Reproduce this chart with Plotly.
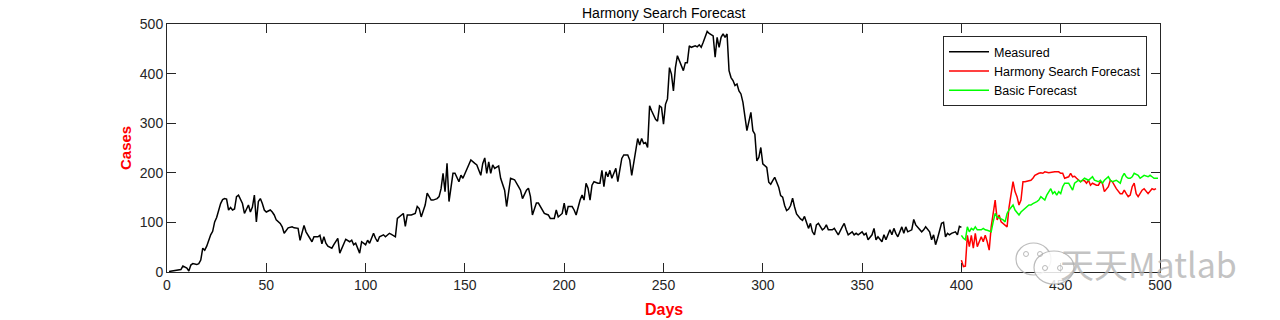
import plotly.graph_objects as go

# ---------------- data ----------------
measured_days = [1,3,5,7,8,10,11,12,13,15,16,17,18,19,20,21,22,23,24,25,26,27,28,29,30,31,32,33,34,35,36,37,38,39,40,41,42,43,44,45,46,47,48,49,50,51,52,53,54,55,57,58,59,61,63,64,66,67,69,70,71,73,74,76,77,78,79,
    80,81,83,84,86,87,89,90,92,93,94,95,97,98,100,101,102,104,105,106,107,109,110,112,113,115,116,118,119,120,121,123,125,126,127,128,130,131,133,134,136,137,138,139,140,141,142,144,145,147,148,149,150,152,153,155,156,158,159,
    160,161,162,163,164,165,167,168,170,171,173,175,177,178,179,181,182,183,184,186,187,189,190,192,193,195,196,197,199,200,201,202,204,205,206,208,209,210,211,212,213,214,215,217,218,219,220,221,222,223,224,226,227,229,230,232,233,234,236,237,238,239,240,
    241,242,243,244,246,247,248,249,250,251,252,253,254,255,256,257,258,259,260,261,262,263,264,266,267,268,269,270,272,273,275,276,277,278,279,280,281,282,283,284,285,286,287,288,289,290,291,292,294,295,296,297,298,299,300,302,303,304,305,306,308,309,310,311,312,313,314,315,316,317,319,320,321,
    322,323,324,325,326,327,328,330,331,332,333,335,336,337,338,340,341,342,343,345,346,347,348,350,351,352,353,355,356,357,358,360,361,362,364,365,366,367,368,370,371,372,373,375,376,377,379,380,381,382,384,385,386,387,388,390,391,392,393,394,395,397,398,399,400]
measured_cases = [1,2,3,5,12,8,2,14,17,15,17,24,48,44,52,65,75,82,101,110,125,138,146,148,147,125,130,125,127,152,155,145,138,118,128,135,121,131,155,101,142,148,138,125,121,123,125,121,115,105,98,91,78,89,91,89,88,64,94,81,74,61,71,71,74,57,71,
    58,52,48,55,68,38,55,66,61,64,55,58,38,61,55,64,58,78,68,61,71,75,71,78,76,71,108,115,118,92,115,115,118,132,128,111,135,159,145,145,148,152,168,199,162,219,142,199,199,182,195,189,199,216,226,219,216,195,219,
    230,199,222,199,216,209,214,189,165,132,189,186,172,165,148,165,169,152,115,139,139,125,118,115,108,108,125,111,118,139,115,132,132,125,115,145,155,145,179,169,145,175,182,179,179,205,172,202,192,205,189,209,182,229,236,236,226,195,246,269,256,269,259,
    261,251,335,325,308,304,335,332,298,338,349,412,399,365,412,436,426,416,406,422,422,456,453,456,454,458,453,463,485,481,476,433,473,453,473,480,473,480,406,392,386,376,379,365,359,342,315,285,322,285,278,224,231,251,218,211,181,177,184,191,171,154,151,134,124,127,134,149,131,117,107,104,112,
    101,88,98,81,75,95,98,85,88,95,85,85,88,81,75,91,98,85,75,81,75,78,75,81,75,78,65,75,88,65,71,61,75,65,85,75,88,78,71,91,78,91,81,85,106,95,85,81,85,91,81,65,75,55,68,98,100,71,78,75,78,81,75,92,90]

hs_days = [400,401,402,403,404,405,406,407,408,410,411,412,413,414,415,416,417,418,419,420,421,423,424,425,426,427,428,429,430,431,432,434,435,436,437,439,440,441,442,444,446,447,449,450,451,452,454,455,456,457,458,460,461,462,463,464,465,466,468,469,470,471,472,474,475,476,478,479,480,481,482,483,484,485,486,487,488,489,490,491,492,493,494,496,497,498]
hs_cases = [24,11,12,74,51,74,48,78,51,71,61,74,61,44,91,118,145,105,115,101,98,91,131,158,182,162,152,135,145,182,182,184,185,189,195,199,200,199,202,200,202,202,202,199,199,189,192,199,192,193,189,182,185,184,179,185,175,179,175,175,182,179,162,172,185,182,168,162,158,158,165,158,152,155,172,179,158,152,158,165,168,162,158,168,166,168]

basic_days = [400,401,402,403,404,405,406,407,408,410,411,412,413,415,416,417,418,420,421,422,423,424,426,427,428,429,430,431,433,434,435,436,438,439,440,441,442,443,445,446,447,448,449,450,451,452,454,455,456,457,459,460,461,462,464,465,466,467,469,470,471,472,474,475,476,478,480,481,482,483,484,485,486,487,489,490,491,492,494,495,496,497,499]
basic_cases = [74,68,65,91,81,88,85,91,85,85,88,85,84,81,101,118,111,108,105,101,118,125,135,125,121,115,121,125,131,135,135,138,142,145,152,148,145,155,168,158,162,155,162,158,172,179,179,172,165,179,185,182,185,189,185,189,192,185,182,185,179,185,192,185,182,185,179,192,199,192,189,189,192,199,195,189,192,195,192,195,192,189,189]

x_ticks = [0, 50, 100, 150, 200, 250, 300, 350, 400, 450, 500]
y_ticks = [0, 100, 200, 300, 400, 500]

# ---------------- figure ----------------
W, H = 1280, 320
L, R, T, B = 167, 120, 24, 48
PW, PH = W - L - R, H - T - B

def px(x):
    return (x - L) / PW

def py(y):
    return (H - B - y) / PH

FONT = "Liberation Sans, Arial, Helvetica, sans-serif"

fig = go.Figure()
fig.add_trace(go.Scatter(x=measured_days, y=measured_cases, mode="lines", name="Measured",
                         line=dict(color="black", width=1.5)))
fig.add_trace(go.Scatter(x=hs_days, y=hs_cases, mode="lines", name="Harmony Search Forecast",
                         line=dict(color="#ff0000", width=1.5)))
fig.add_trace(go.Scatter(x=basic_days, y=basic_cases, mode="lines", name="Basic Forecast",
                         line=dict(color="#00ff00", width=1.5)))

axis_common = dict(showgrid=False, zeroline=False, showline=True, linecolor="#262626", linewidth=1,
                   mirror="ticks", ticks="inside", ticklen=9, tickcolor="#262626", tickwidth=1,
                   tickfont=dict(family=FONT, size=14, color="#262626"))

fig.update_xaxes(range=[0, 500], tickvals=x_ticks, ticktext=[str(v) for v in x_ticks], **axis_common)
fig.update_yaxes(range=[0, 500], tickvals=y_ticks, ticktext=[str(v) for v in y_ticks], **axis_common)

shapes = []
# watermark (WeChat-like bubbles)
gray = "rgba(170,170,170,0.8)"
shapes.append(dict(type="circle", xref="paper", yref="paper", x0=px(1016), x1=px(1051), y0=py(275), y1=py(243),
                   line=dict(color=gray, width=1.2), fillcolor="rgba(255,255,255,0)", layer="above"))
shapes.append(dict(type="circle", xref="paper", yref="paper", x0=px(1034), x1=px(1074), y0=py(284), y1=py(251),
                   line=dict(color=gray, width=1.2), fillcolor="rgba(255,255,255,0.85)", layer="above"))
for cx, cy in [(1026, 254), (1040, 254), (1045, 268), (1060, 268)]:
    shapes.append(dict(type="circle", xref="paper", yref="paper", x0=px(cx - 2.5), x1=px(cx + 2.5),
                       y0=py(cy + 2.5), y1=py(cy - 2.5), line=dict(color=gray, width=1),
                       fillcolor="rgba(255,255,255,0)", layer="above"))

annotations = [
    dict(text="Harmony Search Forecast", xref="paper", yref="paper", x=0.5, y=1, yanchor="bottom",
         yshift=1, showarrow=False, font=dict(family=FONT, size=14, color="black")),
    dict(text="<b>Days</b>", xref="paper", yref="paper", x=0.5, y=0, yanchor="top", yshift=-27,
         showarrow=False, font=dict(family=FONT, size=16, color="#ff0000")),
    dict(text="<b>Cases</b>", xref="paper", yref="paper", x=px(125), y=0.5, textangle=-90,
         xanchor="center", yanchor="middle", showarrow=False, font=dict(family=FONT, size=15, color="#ff0000")),
    dict(text="天天Matlab", xref="paper", yref="paper", x=px(1058), y=py(263), xanchor="left",
         yanchor="middle", showarrow=False,
         font=dict(family="Noto Sans CJK SC, sans-serif", size=34, color="rgba(175,175,175,0.75)")),
]

fig.update_layout(
    width=W, height=H, margin=dict(l=L, r=R, t=T, b=B),
    paper_bgcolor="white", plot_bgcolor="white",
    showlegend=True,
    legend=dict(x=px(1147), y=py(36), xanchor="right", yanchor="top", bgcolor="white",
                bordercolor="#262626", borderwidth=1, font=dict(family=FONT, size=12.5, color="black"),
                tracegroupgap=0, itemwidth=40),
    shapes=shapes, annotations=annotations,
)

fig.write_html("out.html", config={"displayModeBar": False},
               post_script="document.body.style.margin='0';document.body.style.overflow='hidden';")
